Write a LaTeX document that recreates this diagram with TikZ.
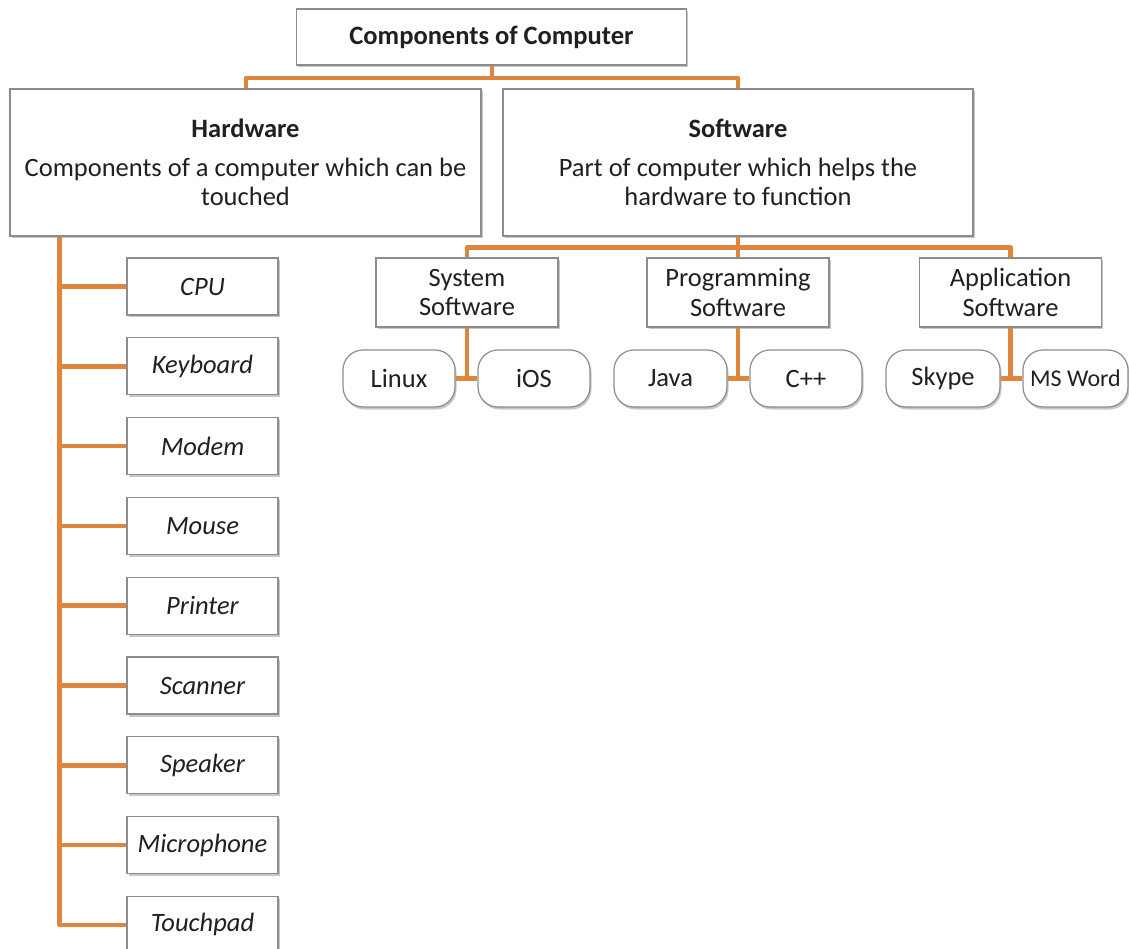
\documentclass[tikz,border=0pt]{standalone}
\usepackage{fontspec}
\setmainfont{Carlito}
\usetikzlibrary{shadows}

\definecolor{branch}{RGB}{222,134,60}
\definecolor{boxline}{RGB}{140,140,140}
\definecolor{ink}{RGB}{35,31,32}

\tikzset{
  card/.style={draw=boxline, line width=1.2pt, fill=white, text=ink,
    align=center, inner sep=0pt, font=\fontsize{26.5}{29.5}\selectfont,
    drop shadow={shadow xshift=1.5pt, shadow yshift=-2.5pt, opacity=0.22, fill=black}},
  headbox/.style={card, minimum width=#1, minimum height=147pt},
  itembox/.style={card, minimum width=151pt, minimum height=57pt,
    font=\fontsize{26.5}{29.5}\selectfont\itshape},
  catbox/.style={card, minimum width=182pt, minimum height=69pt},
  leafbox/.style={card, rounded corners=20pt, minimum width=#1, minimum height=57pt},
  link/.style={draw=branch, line width=4.5pt, line join=round},
}

\begin{document}
\begin{tikzpicture}[x=1pt, y=-1pt]
  \useasboundingbox[fill=white] (0,0) rectangle (1129,949);

  % root
  \node[card, minimum width=390pt, minimum height=56pt, font=\fontsize{26.5}{29.5}\selectfont\bfseries]
    (root) at (491.5,37) {Components of Computer};

  % main branches
  \node[headbox=471pt] (hw) at (245.5,162.5)
    {\textbf{Hardware}\\[9pt]Components of a computer which can be\\touched};
  \node[headbox=470pt] (sw) at (738,162.5)
    {\textbf{Software}\\[9pt]Part of computer which helps the\\hardware to function};

  % hardware items
  \foreach \name [count=\i from 0] in {CPU,Keyboard,Modem,Mouse,Printer,Scanner,Speaker,Microphone,Touchpad}
    \node[itembox] (hw\i) at (202.5,{286.5+79.8*\i}) {\name};

  % software categories
  \node[catbox] (sys)  at (467,292.5)   {System\\Software};
  \node[catbox] (prog) at (738,292.5)   {Programming\\Software};
  \node[catbox] (app)  at (1010.5,292.5) {Application\\Software};

  % software examples
  \node[leafbox=112pt] (linux) at (399,378.5)    {Linux};
  \node[leafbox=112pt] (ios)   at (534,378.5)    {iOS};
  \node[leafbox=113pt] (java)  at (670.5,378.5)  {Java};
  \node[leafbox=112pt] (cpp)   at (806,378.5)    {C++};
  \node[leafbox=114pt] (skype) at (943,378.5)    {Skype};
  \node[leafbox=105pt, font=\fontsize{24}{28}\selectfont] (word) at (1075.5,378.5) {MS Word};

  % connectors
  \draw[link, line width=4pt] (root.south) -- ++(0,12) coordinate (rj) -| (hw.north);
  \draw[link, line width=4pt] (rj) -| (sw.north);

  \foreach \i in {0,...,8}
    \draw[link] ([xshift=50pt]hw.south west) |- (hw\i.west);

  \draw[link] (sw.south) -- ++(0,11) coordinate (sj) -| (sys.north);
  \draw[link] (sj) -| (prog.north);
  \draw[link] (sj) -| (app.north);

  \draw[link] (sys.south) |- (linux.east);
  \draw[link] (sys.south) |- (ios.west);
  \draw[link] (prog.south) |- (java.east);
  \draw[link] (prog.south) |- (cpp.west);
  \draw[link] (app.south) |- (skype.east);
  \draw[link] (app.south) |- (word.west);
\end{tikzpicture}
\end{document}
